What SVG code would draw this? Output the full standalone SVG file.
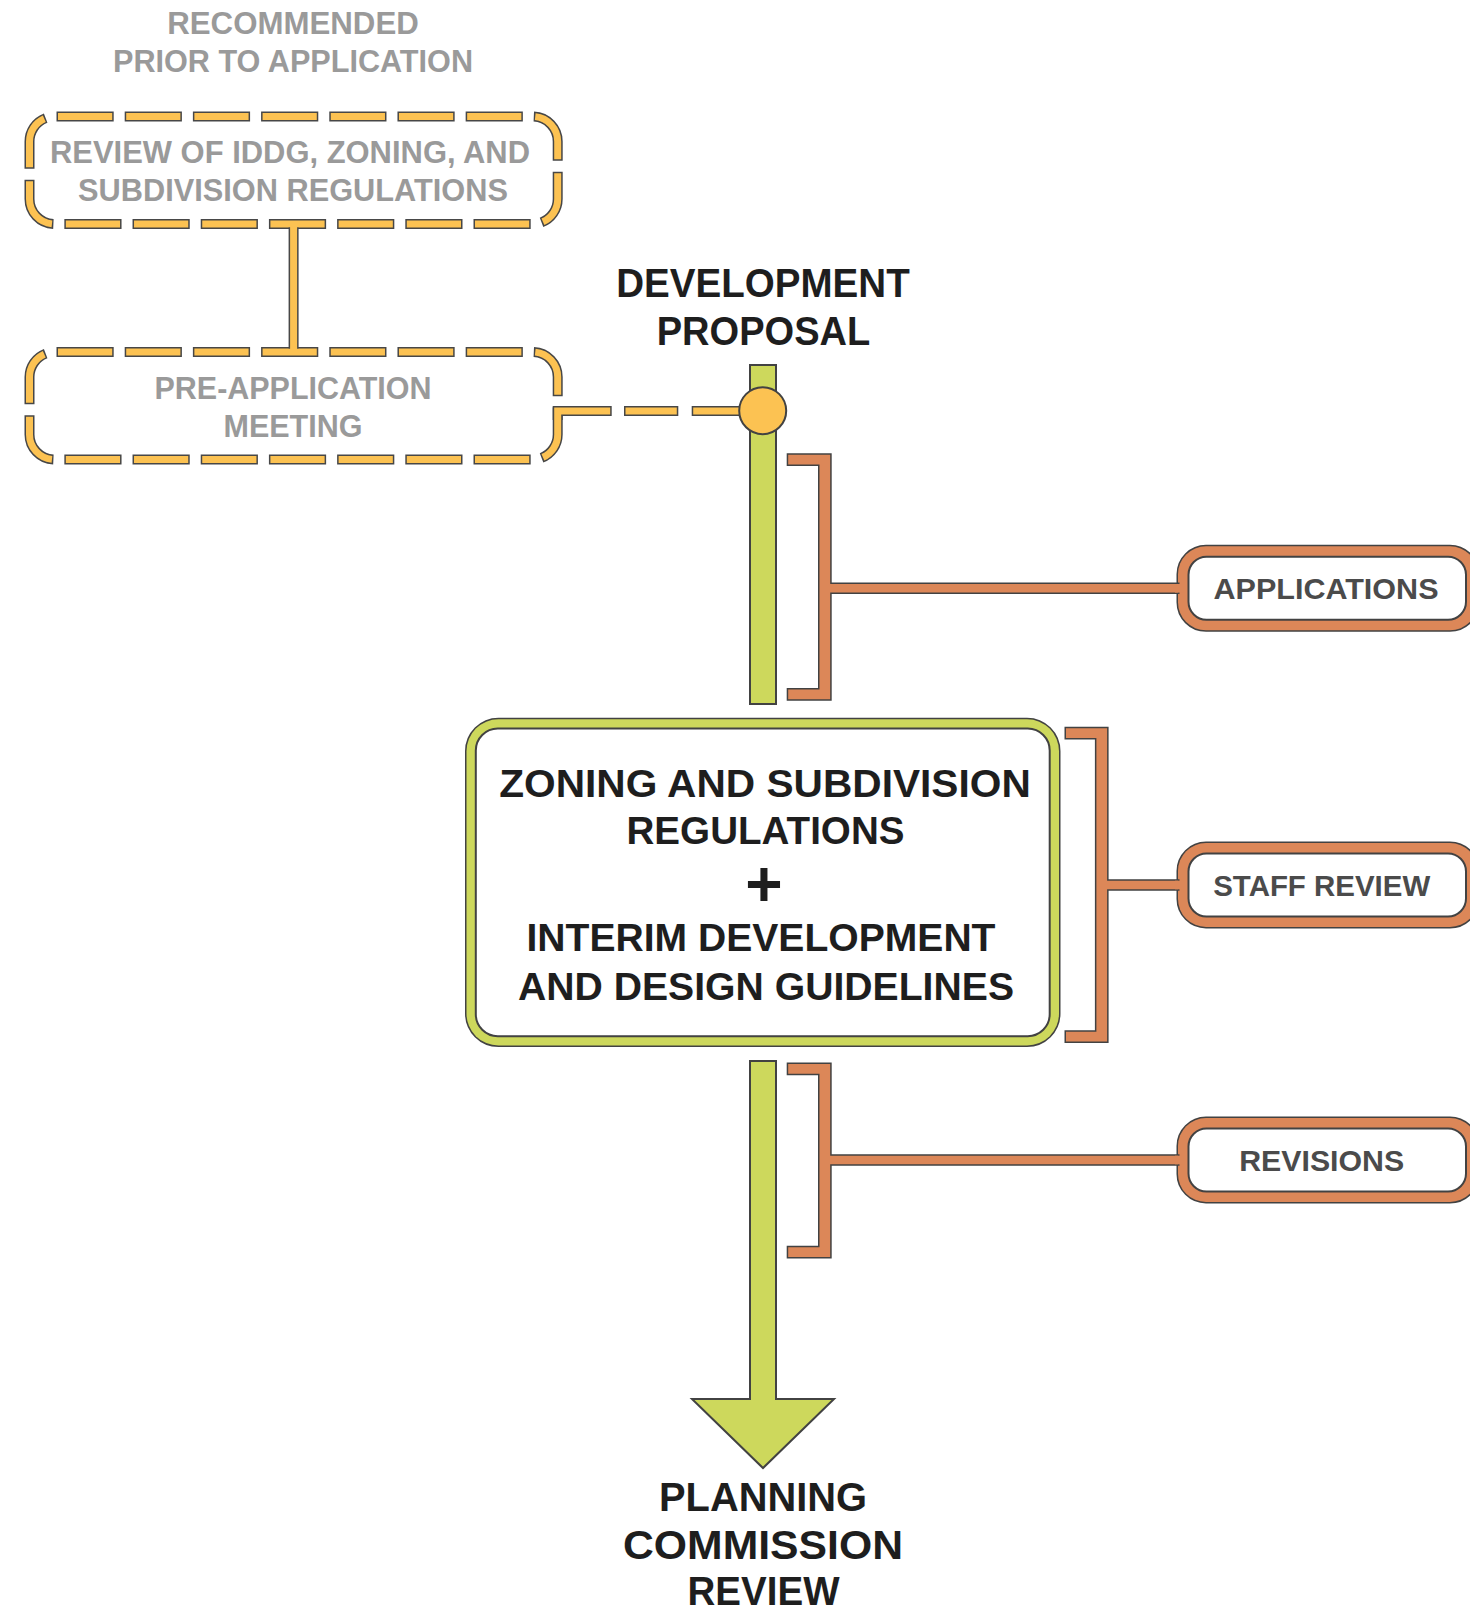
<svg xmlns="http://www.w3.org/2000/svg" width="1470" height="1610" viewBox="0 0 1470 1610">
  <defs>
    <style>
      text { font-family: "Liberation Sans", Arial, sans-serif; font-weight: 700; text-anchor: middle; }
      .gray { font-size: 30.5px; fill: #9a9a9a; }
      .title { font-size: 40px; fill: #1e1e1e; }
      .main { font-size: 39.5px; fill: #1e1e1e; }
      .pill-text { font-size: 30px; fill: #4b4b4b; }
      .dash-o { fill: none; stroke: #474747; stroke-width: 10; stroke-dasharray: 57.25 11; stroke-dashoffset: 1.5; }
      .dash-f { fill: none; stroke: #fcc252; stroke-width: 7; stroke-dasharray: 54.25 14; }
      .y-o { fill: none; stroke: #474747; stroke-width: 10; }
      .y-f { fill: none; stroke: #fcc252; stroke-width: 7; }
      .outline { fill: #424242; stroke: #424242; stroke-width: 3; stroke-linejoin: miter; }
      .orange { fill: #dc8758; }
      .green { fill: #cdd85c; }
      .green-s { fill: #cdd85c; stroke: #424242; stroke-width: 2; }
      .inner { fill: #ffffff; stroke: #424242; stroke-width: 2; }
    </style>
    <!-- dashed rounded outline shared by the two optional steps -->
    <path id="dashbox" pathLength="1228.5" d="M58,0 H532.7 A25,25 0 0 1 557.7,25 V82.5 A25,25 0 0 1 532.7,107.5 H54.5 A25,25 0 0 1 29.5,82.5 V25 A25,25 0 0 1 54.5,0 Z"/>
  </defs>

  <rect width="1470" height="1610" fill="#ffffff"/>

  <!-- heading for the optional steps -->
  <g id="recommended-label">
    <text class="gray" x="293" y="33.5" textLength="251.5" lengthAdjust="spacingAndGlyphs">RECOMMENDED</text>
    <text class="gray" x="293" y="71.5" textLength="360" lengthAdjust="spacingAndGlyphs">PRIOR TO APPLICATION</text>
  </g>

  <g id="review-regulations">
    <use href="#dashbox" class="dash-o" transform="translate(0,116.5)"/>
    <use href="#dashbox" class="dash-f" transform="translate(0,116.5)"/>
    <text class="gray" x="290" y="163" textLength="480" lengthAdjust="spacingAndGlyphs">REVIEW OF IDDG, ZONING, AND</text>
    <text class="gray" x="293" y="201" textLength="430" lengthAdjust="spacingAndGlyphs">SUBDIVISION REGULATIONS</text>
  </g>

  <g id="pre-application-meeting">
    <use href="#dashbox" class="dash-o" transform="translate(0,352)"/>
    <use href="#dashbox" class="dash-f" transform="translate(0,352)"/>
    <text class="gray" x="293" y="399" textLength="277" lengthAdjust="spacingAndGlyphs">PRE-APPLICATION</text>
    <text class="gray" x="293" y="437" textLength="139" lengthAdjust="spacingAndGlyphs">MEETING</text>
  </g>

  <g id="development-proposal">
    <text class="title" x="763" y="296.5" textLength="293.5" lengthAdjust="spacingAndGlyphs">DEVELOPMENT</text>
    <text class="title" x="763.5" y="344.8" textLength="213.5" lengthAdjust="spacingAndGlyphs">PROPOSAL</text>
  </g>

  <g id="regulations-guidelines">
    <rect class="outline" x="466.5" y="719.2" width="592.5" height="326.3" rx="32"/>
    <rect class="green" x="466.5" y="719.2" width="592.5" height="326.3" rx="32"/>
    <rect class="inner" x="475.8" y="728.5" width="573.9" height="307.7" rx="22"/>
    <text class="main" x="765" y="796.5" textLength="531.5" lengthAdjust="spacingAndGlyphs">ZONING AND SUBDIVISION</text>
    <text class="main" x="765.5" y="843.7" textLength="278" lengthAdjust="spacingAndGlyphs">REGULATIONS</text>
    <text class="main" x="764" y="906" style="font-size:64px">+</text>
    <text class="main" x="761" y="950.5" textLength="469" lengthAdjust="spacingAndGlyphs">INTERIM DEVELOPMENT</text>
    <text class="main" x="766" y="999.8" textLength="496" lengthAdjust="spacingAndGlyphs">AND DESIGN GUIDELINES</text>
  </g>

  <g id="applications">
    <rect class="outline" x="1178" y="546.3" width="300" height="84" rx="28"/>
    <rect class="orange" x="1178" y="546.3" width="300" height="84" rx="28"/>
    <rect class="inner" x="1188.5" y="556.8" width="277.5" height="63" rx="18"/>
    <text class="pill-text" x="1326" y="599" textLength="225" lengthAdjust="spacingAndGlyphs">APPLICATIONS</text>
  </g>

  <g id="staff-review">
    <rect class="outline" x="1178" y="843" width="300" height="84" rx="28"/>
    <rect class="orange" x="1178" y="843" width="300" height="84" rx="28"/>
    <rect class="inner" x="1188.5" y="853.5" width="277.5" height="63" rx="18"/>
    <text class="pill-text" x="1321.7" y="895.8" textLength="217" lengthAdjust="spacingAndGlyphs">STAFF REVIEW</text>
  </g>

  <g id="revisions">
    <rect class="outline" x="1178" y="1118" width="300" height="84" rx="28"/>
    <rect class="orange" x="1178" y="1118" width="300" height="84" rx="28"/>
    <rect class="inner" x="1188.5" y="1128.5" width="277.5" height="63" rx="18"/>
    <text class="pill-text" x="1321.7" y="1170.8" textLength="165" lengthAdjust="spacingAndGlyphs">REVISIONS</text>
  </g>

  <g id="planning-commission-review">
    <text class="title" x="763" y="1511" textLength="208" lengthAdjust="spacingAndGlyphs">PLANNING</text>
    <text class="title" x="763" y="1559.3" textLength="280" lengthAdjust="spacingAndGlyphs">COMMISSION</text>
    <text class="title" x="763.5" y="1605.3" textLength="152" lengthAdjust="spacingAndGlyphs">REVIEW</text>
  </g>

  <g id="connectors">
    <!-- main flow: proposal to regulations, regulations to commission -->
    <rect class="green-s" x="750" y="365" width="26" height="339"/>
    <path class="green-s" d="M750,1061 H776 V1399 H834 L763,1468 L692,1399 H750 Z"/>

    <!-- link between the two optional steps -->
    <line class="y-o" x1="293.6" y1="227.5" x2="293.6" y2="348.5"/>
    <line class="y-f" x1="293.6" y1="224" x2="293.6" y2="352"/>

    <!-- dashed link from the meeting to the proposal line -->
    <path class="y-o" d="M557.7,420 V411 H611.7"/>
    <line class="y-o" x1="624" y1="411" x2="678.3" y2="411"/>
    <line class="y-o" x1="691.7" y1="411" x2="745" y2="411"/>
    <path class="y-f" d="M557.7,420 V411 H610.2"/>
    <line class="y-f" x1="625.5" y1="411" x2="676.8" y2="411"/>
    <line class="y-f" x1="693.2" y1="411" x2="745" y2="411"/>
    <circle cx="762.7" cy="410.7" r="23.5" fill="#fcc252" stroke="#424242" stroke-width="2"/>

    <!-- brackets tying each stage to its step -->
    <path class="outline" d="M788.2,454.8 H830.2 V584 H1178 V592.6 H830.2 V699.2 H788.2 V689.5 H819.5 V464.5 H788.2 Z"/>
    <path class="orange" d="M788.2,454.8 H830.2 V584 H1178 V592.6 H830.2 V699.2 H788.2 V689.5 H819.5 V464.5 H788.2 Z"/>
    <rect class="orange" x="1175" y="584" width="9" height="8.6"/>

    <path class="outline" d="M1066,728.3 H1107.1 V880.7 H1178 V889.3 H1107.1 V1041.5 H1066 V1031.8 H1096.4 V738 H1066 Z"/>
    <path class="orange" d="M1066,728.3 H1107.1 V880.7 H1178 V889.3 H1107.1 V1041.5 H1066 V1031.8 H1096.4 V738 H1066 Z"/>
    <rect class="orange" x="1175" y="880.7" width="9" height="8.6"/>

    <path class="outline" d="M788.2,1064 H830.2 V1155.7 H1178 V1164.3 H830.2 V1257 H788.2 V1247.3 H819.5 V1073.7 H788.2 Z"/>
    <path class="orange" d="M788.2,1064 H830.2 V1155.7 H1178 V1164.3 H830.2 V1257 H788.2 V1247.3 H819.5 V1073.7 H788.2 Z"/>
    <rect class="orange" x="1175" y="1155.7" width="9" height="8.6"/>
  </g>
</svg>
